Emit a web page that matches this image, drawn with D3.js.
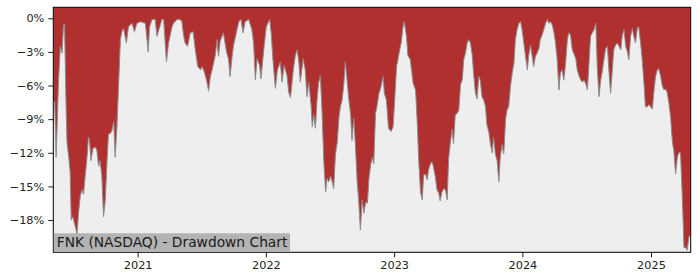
<!DOCTYPE html>
<html><head><meta charset="utf-8">
<script src="https://cdn.jsdelivr.net/npm/d3@7/dist/d3.min.js"></script>
<style>html,body{margin:0;padding:0;background:#fff;}svg{display:block;font-family:"DejaVu Sans",sans-serif;}</style>
</head><body>
<svg id="chart" width="700" height="280"></svg>
<script>
// ---- data (drawdown in %) ----
const dates2020 = ["2020-05-06","2020-05-10","2020-05-14","2020-05-21","2020-05-26","2020-05-31","2020-06-04","2020-06-07","2020-06-11","2020-06-14","2020-06-19","2020-06-23","2020-06-26","2020-07-01","2020-07-05","2020-07-10","2020-07-12","2020-07-17","2020-07-22","2020-07-27","2020-07-31","2020-08-05","2020-08-10","2020-08-14","2020-08-17","2020-08-21","2020-08-27","2020-09-03","2020-09-07","2020-09-12","2020-09-16","2020-09-21","2020-09-26","2020-10-01","2020-10-06","2020-10-10","2020-10-15","2020-10-20","2020-10-25","2020-10-29","2020-11-03","2020-11-08","2020-11-13","2020-11-17","2020-11-22","2020-11-30","2020-12-06","2020-12-16","2020-12-23","2020-12-30"];
const drawdown2020 = [-7.3,-7.5,-12.4,-5.5,-2.5,-3.1,-0.6,-0.5,-7.3,-11.1,-12.4,-13.8,-18.0,-17.7,-18.3,-18.9,-19.5,-17.3,-15.8,-15.3,-15.7,-14.0,-12.4,-10.6,-10.8,-12.7,-11.6,-11.5,-11.8,-13.2,-12.7,-14.0,-17.7,-16.2,-12.7,-10.3,-10.3,-10.0,-9.2,-12.4,-9.7,-5.8,-1.9,-1.2,-0.9,-2.2,-0.75,-0.45,-1.2,-0.45];

const dates2021 = ["2021-01-09","2021-01-18","2021-01-23","2021-01-31","2021-02-04","2021-02-11","2021-02-20","2021-02-25","2021-03-05","2021-03-11","2021-03-16","2021-03-24","2021-03-30","2021-04-09","2021-04-13","2021-04-23","2021-05-02","2021-05-07","2021-05-12","2021-05-16","2021-05-23","2021-05-31","2021-06-08","2021-06-14","2021-06-21","2021-06-29","2021-07-03","2021-07-10","2021-07-18","2021-07-22","2021-07-27","2021-08-01","2021-08-10","2021-08-15","2021-08-19","2021-08-24","2021-09-02","2021-09-11","2021-09-17","2021-09-21","2021-09-27","2021-10-01","2021-10-11","2021-10-16","2021-10-22","2021-10-28","2021-11-03","2021-11-13","2021-11-22","2021-11-27","2021-12-02","2021-12-07","2021-12-14","2021-12-18","2021-12-26"];
const drawdown2021 = [-0.3,-0.4,-0.45,-3.0,-0.75,-0.1,-0.1,-1.6,-0.75,-0.1,-0.1,-3.9,-2.2,-0.75,-0.45,-0.1,-0.1,-0.3,-1.6,-2.2,-2.5,-1.3,-1.2,-2.8,-4.3,-4.6,-4.3,-4.8,-5.8,-6.5,-5.2,-4.6,-3.3,-1.9,-3.4,-2.0,-1.3,-3.0,-3.7,-5.2,-3.4,-2.4,-1.0,-0.3,-0.1,-1.3,-0.3,-0.1,-1.0,-2.2,-5.5,-3.6,-4.2,-5.4,-2.8];

const dates2022 = ["2022-01-02","2022-01-12","2022-01-16","2022-01-21","2022-01-28","2022-02-03","2022-02-11","2022-02-16","2022-02-22","2022-03-02","2022-03-07","2022-03-12","2022-03-20","2022-03-26","2022-03-31","2022-04-05","2022-04-09","2022-04-17","2022-04-23","2022-04-28","2022-05-03","2022-05-10","2022-05-13","2022-05-17","2022-05-22","2022-05-27","2022-05-31","2022-06-05","2022-06-10","2022-06-15","2022-06-20","2022-06-24","2022-06-29","2022-07-04","2022-07-09","2022-07-13","2022-07-18","2022-07-23","2022-07-28","2022-08-01","2022-08-06","2022-08-11","2022-08-15","2022-08-20","2022-08-25","2022-08-30","2022-09-03","2022-09-08","2022-09-13","2022-09-18","2022-09-22","2022-09-27","2022-10-02","2022-10-07","2022-10-12","2022-10-17","2022-10-21","2022-10-26","2022-10-31","2022-11-04","2022-11-09","2022-11-14","2022-11-18","2022-11-23","2022-12-01","2022-12-04","2022-12-10","2022-12-16","2022-12-23","2022-12-29"];
const drawdown2022 = [-0.75,-0.1,-1.3,-3.7,-6.25,-4.6,-3.9,-5.7,-4.2,-5.1,-6.6,-7.1,-4.6,-3.3,-2.8,-4.0,-5.7,-3.6,-4.6,-7.0,-5.7,-7.9,-9.7,-8.6,-9.8,-7.1,-5.8,-5.1,-8.5,-12.9,-15.5,-14.3,-14.6,-14.1,-14.6,-15.2,-12.1,-11.1,-8.8,-7.9,-7.3,-5.8,-3.9,-5.5,-7.3,-8.5,-10.9,-8.9,-11.5,-14.7,-16.2,-18.9,-16.2,-17.4,-16.4,-16.5,-14.4,-13.1,-12.4,-13.0,-8.5,-7.7,-6.8,-6.3,-5.2,-6.7,-7.3,-9.8,-10.1,-9.7];

const dates2023 = ["2023-01-02","2023-01-08","2023-01-14","2023-01-21","2023-01-27","2023-01-30","2023-02-05","2023-02-09","2023-02-16","2023-02-24","2023-03-03","2023-03-08","2023-03-12","2023-03-17","2023-03-22","2023-03-26","2023-03-31","2023-04-05","2023-04-09","2023-04-14","2023-04-19","2023-04-23","2023-04-28","2023-05-03","2023-05-08","2023-05-12","2023-05-17","2023-05-22","2023-05-27","2023-06-01","2023-06-05","2023-06-10","2023-06-15","2023-06-19","2023-06-24","2023-06-29","2023-07-04","2023-07-09","2023-07-14","2023-07-18","2023-07-23","2023-07-28","2023-08-01","2023-08-06","2023-08-11","2023-08-15","2023-08-20","2023-08-25","2023-08-30","2023-09-03","2023-09-08","2023-09-13","2023-09-18","2023-09-22","2023-09-27","2023-10-02","2023-10-07","2023-10-11","2023-10-16","2023-10-21","2023-10-26","2023-10-30","2023-11-04","2023-11-09","2023-11-14","2023-11-18","2023-11-23","2023-11-28","2023-12-03","2023-12-08","2023-12-12","2023-12-17","2023-12-22","2023-12-27"];
const drawdown2023 = [-7.6,-4.3,-3.3,-2.2,-0.6,-0.3,-1.6,-3.3,-3.7,-5.8,-6.4,-9.5,-12.7,-15.5,-16.2,-14.0,-13.9,-14.4,-13.5,-13.0,-12.8,-13.3,-14.1,-15.3,-15.6,-16.3,-15.5,-15.2,-15.3,-16.2,-12.5,-11.1,-9.9,-11.2,-8.6,-8.5,-8.2,-5.9,-5.5,-3.7,-3.1,-2.2,-1.9,-2.2,-3.2,-4.9,-6.6,-7.2,-5.2,-5.5,-7.0,-7.3,-7.9,-9.5,-10.1,-11.2,-12.0,-10.6,-12.1,-12.7,-14.6,-12.4,-11.3,-12.1,-9.1,-8.2,-7.9,-6.1,-4.9,-4.0,-1.9,-1.0,-0.45,-0.3];

const dates2024 = ["2024-01-01","2024-01-05","2024-01-10","2024-01-15","2024-01-19","2024-01-24","2024-01-29","2024-02-02","2024-02-07","2024-02-12","2024-02-17","2024-02-21","2024-02-26","2024-03-02","2024-03-07","2024-03-12","2024-03-16","2024-03-21","2024-03-26","2024-03-31","2024-04-04","2024-04-09","2024-04-14","2024-04-18","2024-04-23","2024-04-28","2024-05-03","2024-05-08","2024-05-12","2024-05-17","2024-05-22","2024-05-27","2024-06-01","2024-06-05","2024-06-10","2024-06-15","2024-06-20","2024-06-24","2024-06-29","2024-07-04","2024-07-08","2024-07-13","2024-07-18","2024-07-23","2024-07-28","2024-08-01","2024-08-06","2024-08-11","2024-08-16","2024-08-20","2024-08-25","2024-08-30","2024-09-03","2024-09-08","2024-09-13","2024-09-17","2024-09-22","2024-09-27","2024-10-02","2024-10-07","2024-10-11","2024-10-16","2024-10-21","2024-10-26","2024-10-30","2024-11-04","2024-11-09","2024-11-13","2024-11-18","2024-11-23","2024-11-27","2024-12-02","2024-12-07","2024-12-12","2024-12-16","2024-12-21","2024-12-26","2024-12-31"];
const drawdown2024 = [-1.2,-2.2,-3.4,-4.6,-3.3,-2.4,-3.4,-4.3,-3.4,-3.1,-2.7,-1.9,-1.5,-1.0,-0.45,-0.1,-0.45,-0.3,-0.6,-1.3,-2.1,-3.7,-6.4,-4.9,-4.6,-5.5,-4.0,-1.9,-1.3,-1.5,-2.8,-3.2,-3.6,-4.6,-5.1,-5.5,-5.7,-5.5,-5.8,-6.4,-4.3,-1.6,-1.3,-1.0,-0.45,-4.3,-7.0,-5.5,-4.6,-3.7,-2.7,-2.5,-4.6,-6.7,-4.6,-2.8,-2.4,-2.2,-2.5,-2.8,-1.6,-1.0,-2.5,-3.0,-3.7,-1.6,-0.9,-1.6,-2.2,-0.9,-0.75,-2.1,-3.7,-5.8,-7.9,-7.9,-7.7,-7.9];

const dates2025 = ["2025-01-05","2025-01-09","2025-01-14","2025-01-19","2025-01-23","2025-01-28","2025-02-02","2025-02-07","2025-02-11","2025-02-16","2025-02-21","2025-02-26","2025-03-03","2025-03-07","2025-03-12","2025-03-17","2025-03-21","2025-03-26","2025-03-31","2025-04-05","2025-04-09","2025-04-14","2025-04-19","2025-04-24"];
const drawdown2025 = [-8.1,-6.6,-5.2,-4.6,-4.5,-5.1,-6.0,-6.4,-6.3,-6.6,-7.6,-8.9,-11.1,-11.8,-13.9,-12.4,-12.0,-12.0,-15.9,-20.5,-20.4,-20.7,-19.5,-19.3];

const yTicks = [0, -3, -6, -9, -12, -15, -18];
const xTickYears = [2021, 2022, 2023, 2024, 2025];
const yLimits = [-20.88, 0.98];
const titleText = "FNK (NASDAQ) - Drawdown Chart";

// ---- build ----
const parse = d3.timeParse("%Y-%m-%d");
const allDates = [].concat(dates2020, dates2021, dates2022, dates2023, dates2024, dates2025);
const allValues = [].concat(drawdown2020, drawdown2021, drawdown2022, drawdown2023, drawdown2024, drawdown2025);
const n = Math.min(allDates.length, allValues.length);
const data = d3.range(n).map(i => ({date: parse(allDates[i]), value: allValues[i]}));

const svg = d3.select("#chart");
const margin = {left: 53.3, top: 7.3, right: 9.3, bottom: 27.7};
const W = 700 - margin.left - margin.right;
const H = 280 - margin.top - margin.bottom;

const x = d3.scaleTime().domain(d3.extent(data, d => d.date)).range([0, W]);
const y = d3.scaleLinear().domain(yLimits).range([H, 0]);

const g = svg.append("g").attr("transform", `translate(${margin.left},${margin.top})`);

g.append("defs").append("clipPath").attr("id", "clip")
  .append("rect").attr("width", W).attr("height", H);

g.append("rect").attr("width", W).attr("height", H).attr("fill", "#eeeeee");

const plot = g.append("g").attr("clip-path", "url(#clip)");
plot.append("path").datum(data)
  .attr("fill", "#b03030")
  .attr("d", d3.area().x(d => x(d.date)).y0(0).y1(d => y(d.value)));
plot.append("path").datum(data)
  .attr("fill", "none").attr("stroke", "#8c8c8c").attr("stroke-width", 1)
  .attr("d", d3.line().x(d => x(d.date)).y(d => y(d.value)));

// axes
const fmt = v => (v < 0 ? "\u2212" + Math.abs(v) : v) + "%";
const yAxis = g.append("g").call(d3.axisLeft(y).tickValues(yTicks).tickFormat(fmt).tickSize(5).tickPadding(4));
const xAxis = g.append("g").attr("transform", `translate(0,${H})`)
  .call(d3.axisBottom(x).tickValues(xTickYears.map(yr => new Date(yr, 0, 1))).tickFormat(d3.timeFormat("%Y")).tickSize(5).tickPadding(4));
[yAxis, xAxis].forEach(a => {
  a.select(".domain").remove();
  a.selectAll("line").attr("stroke", "#000").attr("stroke-width", 0.9);
  a.selectAll("text").attr("fill", "#222").style("font-family", "DejaVu Sans").style("font-size", "11.3px");
});

// frame
g.append("rect").attr("width", W).attr("height", H).attr("fill", "none").attr("stroke", "#000").attr("stroke-width", 1);

// title box
const tg = g.append("g");
const t = tg.append("text").attr("x", 3.4).attr("y", H - 5.6)
  .attr("fill", "#1a1a1a").style("font-family", "DejaVu Sans").style("font-size", "13.8px").text(titleText);
const tw = t.node().getComputedTextLength();
tg.insert("rect", "text").attr("x", 0.5).attr("y", H - 19).attr("width", tw + 5.5).attr("height", 18.5).attr("fill", "#b3b3b3");
</script>
</body></html>
